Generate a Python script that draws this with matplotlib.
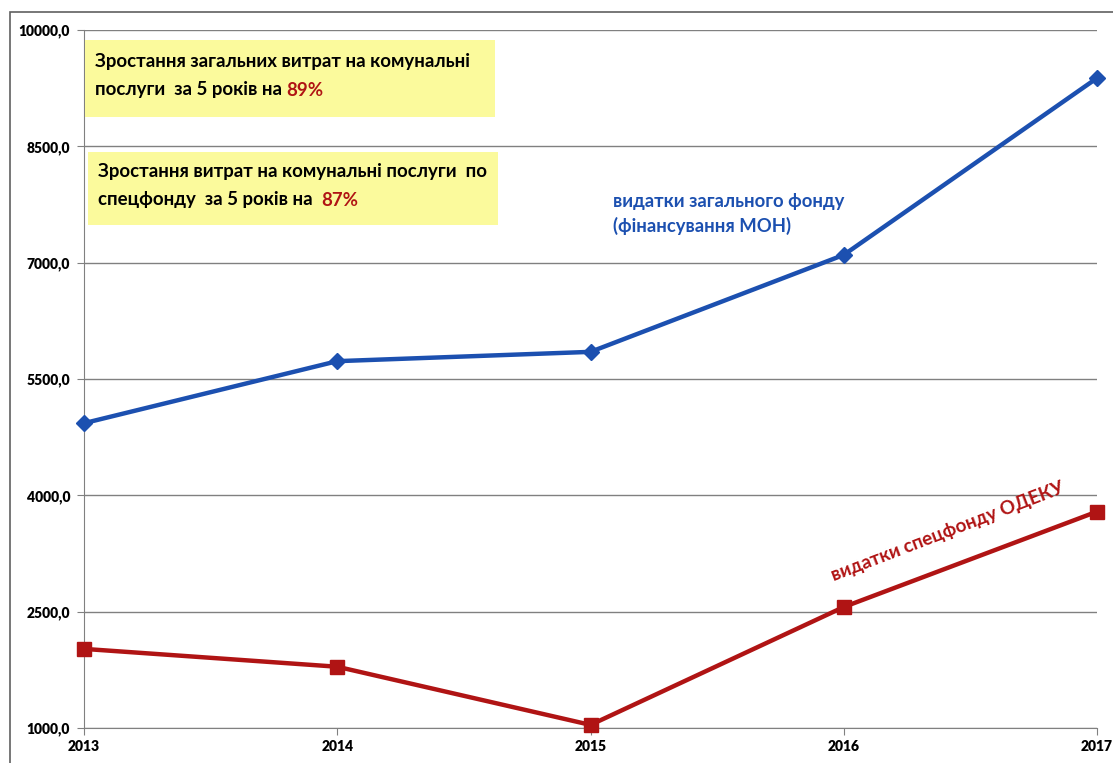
import matplotlib.pyplot as plt
import matplotlib.patches as mpatches
from matplotlib.ticker import FuncFormatter

plt.rcParams['font.family'] = ['Lato', 'DejaVu Sans']

years = ['2013', '2014', '2015', '2016', '2017']
general_fund = [4930, 5730, 5850, 7100, 9380]
special_fund = [2020, 1790, 1040, 2560, 3790]
y_ticks = [1000, 2500, 4000, 5500, 7000, 8500, 10000]

blue = '#1c50b0'
red = '#b01414'

fig = plt.figure(figsize=(11.13, 7.63), dpi=100)
ax = fig.add_axes([84 / 1113, 1 - 728 / 763, (1097 - 84) / 1113, (728 - 30) / 763])

# outer chart frame
fig.patches.append(mpatches.Rectangle((10 / 1113, -0.02), 1.1, 1 - 12 / 763 + 0.02,
                                      transform=fig.transFigure, fill=False,
                                      edgecolor='#606060', linewidth=1.2))

x = range(len(years))
ax.plot(x, general_fund, color=blue, linewidth=3.2, marker='D', markersize=8,
        clip_on=False, zorder=3)
ax.plot(x, special_fund, color=red, linewidth=3.2, marker='s', markersize=10,
        clip_on=False, zorder=3)

ax.set_xlim(0, len(years) - 1)
ax.set_ylim(1000, 10000)
ax.set_yticks(y_ticks)
ax.yaxis.set_major_formatter(FuncFormatter(lambda v, p: f'{v:.1f}'.replace('.', ',')))
ax.set_xticks(list(x))
ax.set_xticklabels(years)
ax.grid(axis='y', color='#808080', linewidth=1.0)
ax.set_axisbelow(True)

for s in ['top', 'right']:
    ax.spines[s].set_visible(False)
for s in ['left', 'bottom']:
    ax.spines[s].set_color('#808080')
ax.tick_params(axis='both', colors='#808080', labelcolor='black', labelsize=10, length=5)
ax.tick_params(axis='y', pad=5)
for lbl in ax.get_xticklabels() + ax.get_yticklabels():
    lbl.set_fontweight('heavy')

# yellow note boxes
box_kw = dict(transform=fig.transFigure, facecolor='#fbfa9c', edgecolor='none', zorder=2)
fig.patches.append(mpatches.Rectangle((85 / 1113, 1 - 117 / 763), 410 / 1113, 77 / 763, **box_kw))
fig.patches.append(mpatches.Rectangle((88 / 1113, 1 - 225 / 763), 410 / 1113, 73 / 763, **box_kw))

tk = dict(transform=fig.transFigure, fontsize=13.4, fontweight='bold', va='center', zorder=4)
fig.text(95 / 1113, 1 - 62 / 763, 'Зростання загальних витрат на комунальні', **tk)
t = fig.text(95 / 1113, 1 - 90 / 763, 'послуги  за 5 років на ', **tk)
fig.canvas.draw()
bb = t.get_window_extent()
fig.text(bb.x1 / 1113, 1 - 90 / 763, '89%', color=red, **tk)

fig.text(98 / 1113, 1 - 172 / 763, 'Зростання витрат на комунальні послуги  по', **tk)
t2 = fig.text(98 / 1113, 1 - 200 / 763, 'спецфонду  за 5 років на  ', **tk)
fig.canvas.draw()
bb2 = t2.get_window_extent()
fig.text(bb2.x1 / 1113, 1 - 200 / 763, '87%', color=red, **tk)

fig.text(613 / 1113, 1 - 214 / 763, 'видатки загального фонду\n(фінансування МОН)',
         transform=fig.transFigure, fontsize=13.3, fontweight='bold', color=blue,
         va='center', linespacing=1.5)
fig.text(948 / 1113, 1 - 532 / 763, 'видатки спецфонду ОДЕКУ',
         transform=fig.transFigure, fontsize=13.6, fontweight='bold', color=red,
         ha='center', va='center', rotation=21)

fig.savefig('out.png', dpi=100)
